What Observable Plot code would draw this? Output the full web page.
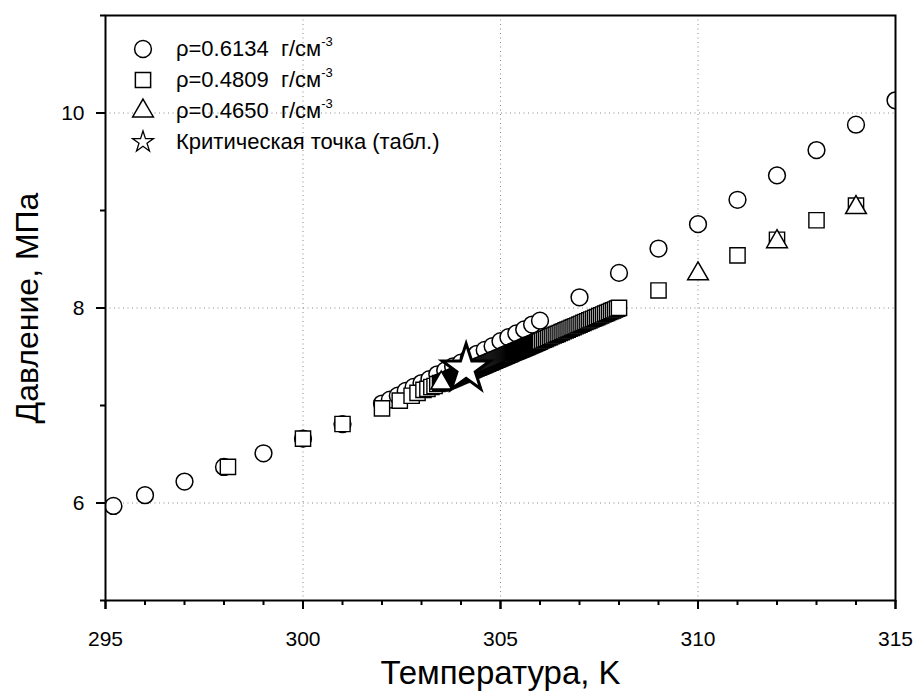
<!DOCTYPE html>
<html>
<head>
<meta charset="utf-8">
<script src="https://cdn.jsdelivr.net/npm/d3@7"></script>
<script src="https://cdn.jsdelivr.net/npm/@observablehq/plot@0.6"></script>
<style>
  html, body { margin: 0; padding: 0; background: #fff; }
  #wrap { position: relative; width: 915px; height: 693px; font-family: "Liberation Sans", Arial, sans-serif; }
  #legend { position: absolute; left: 128px; top: 33px; }
  .row { display: flex; align-items: center; height: 31px; }
  .row svg { width: 30px; height: 30px; margin-right: 18px; overflow: visible; }
  .row span { font-size: 22px; color: #000; white-space: pre; }
  .row sup { font-size: 13px; vertical-align: 10px; line-height: 0; }
</style>
</head>
<body>
<div id="wrap"><div id="legend"></div></div>
<script>
// ρ=0.6134 г/см-3 (circles)
const circT = [295.2, 296, 297, 298, 299, 300, 301, 302, 302.2, 302.4, 302.6, 302.8, 303, 303.2, 303.4, 303.6, 303.8, 304, 304.2, 304.4, 304.6, 304.8, 305, 305.2, 305.4, 305.6, 305.8, 306, 307, 308, 309, 310, 311, 312, 313, 314, 315];
const circP = [5.97, 6.08, 6.22, 6.37, 6.51, 6.66, 6.81, 7.02, 7.06, 7.10, 7.15, 7.19, 7.23, 7.27, 7.32, 7.36, 7.40, 7.44, 7.49, 7.53, 7.57, 7.61, 7.66, 7.70, 7.74, 7.78, 7.83, 7.87, 8.11, 8.36, 8.61, 8.86, 9.11, 9.36, 9.62, 9.88, 10.13];

// ρ=0.4809 г/см-3 (squares)
const sqT = [298.1, 300, 301, 302, 302.45, 302.75, 302.9, 303.05, 303.15, 303.25, 303.33, 303.4, 303.47,
  303.5, 303.525, 303.55, 303.575, 303.6, 303.625, 303.65, 303.675, 303.7, 303.725, 303.75, 303.775, 303.8, 303.825, 303.85, 303.875, 303.9, 303.925, 303.95, 303.975,
  304, 304.025, 304.05, 304.075, 304.1, 304.125, 304.15, 304.175, 304.2, 304.225, 304.25, 304.275, 304.3, 304.325, 304.35, 304.375, 304.4, 304.425, 304.45, 304.475,
  304.5, 304.525, 304.55, 304.575, 304.6, 304.625, 304.65, 304.675, 304.7, 304.725, 304.75, 304.775, 304.8, 304.825, 304.85, 304.875, 304.9, 304.925, 304.95, 304.975,
  305, 305.025, 305.05, 305.075, 305.1, 305.125, 305.15, 305.175, 305.2, 305.225, 305.25, 305.275, 305.3, 305.325, 305.35, 305.375, 305.4, 305.425, 305.45, 305.475,
  305.5, 305.525, 305.55, 305.575, 305.6, 305.625, 305.65, 305.675, 305.7, 305.725, 305.75, 305.775, 305.8, 305.825, 305.85, 305.875, 305.9, 305.925, 305.95, 305.975, 306,
  306.05, 306.1, 306.15, 306.2, 306.25, 306.3, 306.35, 306.4, 306.45, 306.5, 306.55, 306.6, 306.65, 306.7, 306.75, 306.8, 306.85, 306.9, 306.95, 307,
  307.05, 307.1, 307.15, 307.2, 307.25, 307.3, 307.35, 307.4, 307.45, 307.5, 307.55, 307.6, 307.65, 307.7, 307.75, 307.8, 307.85, 307.9, 307.95, 308,
  309, 311, 312, 313, 314];
const sqP = [6.37, 6.66, 6.81, 6.97, 7.05, 7.10, 7.13, 7.16, 7.17, 7.19, 7.20, 7.22, 7.23,
  7.228, 7.232, 7.237, 7.241, 7.245, 7.250, 7.254, 7.258, 7.262, 7.267, 7.271, 7.275, 7.280, 7.284, 7.288, 7.293, 7.297, 7.301, 7.305, 7.310,
  7.314, 7.318, 7.323, 7.327, 7.331, 7.336, 7.340, 7.344, 7.348, 7.353, 7.357, 7.361, 7.366, 7.370, 7.374, 7.379, 7.383, 7.387, 7.391, 7.396,
  7.400, 7.404, 7.409, 7.413, 7.417, 7.422, 7.426, 7.430, 7.434, 7.439, 7.443, 7.447, 7.452, 7.456, 7.460, 7.465, 7.469, 7.473, 7.477, 7.482,
  7.486, 7.490, 7.495, 7.499, 7.503, 7.508, 7.512, 7.516, 7.520, 7.525, 7.529, 7.533, 7.538, 7.542, 7.546, 7.551, 7.555, 7.559, 7.563, 7.568,
  7.572, 7.576, 7.581, 7.585, 7.589, 7.594, 7.598, 7.602, 7.606, 7.611, 7.615, 7.619, 7.624, 7.628, 7.632, 7.637, 7.641, 7.645, 7.649, 7.654, 7.658,
  7.667, 7.675, 7.684, 7.692, 7.701, 7.710, 7.718, 7.727, 7.735, 7.744, 7.753, 7.761, 7.770, 7.778, 7.787, 7.796, 7.804, 7.813, 7.821, 7.830,
  7.839, 7.847, 7.856, 7.864, 7.873, 7.882, 7.890, 7.899, 7.907, 7.916, 7.925, 7.933, 7.942, 7.950, 7.959, 7.968, 7.976, 7.985, 7.993, 8.002,
  8.18, 8.54, 8.70, 8.90, 9.05];

// ρ=0.4650 г/см-3 (triangles)
const triT = [303.5, 310, 312, 314];
const triP = [7.23, 8.35, 8.68, 9.03];

// Critical point (tabulated)
const critT = [304.13];
const critP = [7.377];

// Axes
const xMajor = [295, 300, 305, 310, 315];
const xMinor = [296, 297, 298, 299, 301, 302, 303, 304, 306, 307, 308, 309, 311, 312, 313, 314];
const yMajor = [6, 8, 10];
const yMinor = [5, 7, 9, 11];
const xGrid = [300, 305, 310];
const yGrid = [6, 8, 10];
const xTitle = "Температура, K";
const yTitle = "Давление, МПа";

const legendItems = [
  {symbol: "circle", label: "ρ=0.6134  г/см", sup: "-3"},
  {symbol: "square", label: "ρ=0.4809  г/см", sup: "-3"},
  {symbol: "triangle", label: "ρ=0.4650  г/см", sup: "-3"},
  {symbol: "star", label: "Критическая точка (табл.)", sup: ""}
];

const circles = circT.map((t, i) => ({t, p: circP[i]}));
const squares = sqT.map((t, i) => ({t, p: sqP[i]}));
const triangles = triT.map((t, i) => ({t, p: triP[i]}));
const crit = critT.map((t, i) => ({t, p: critP[i]}));

const W = 915, H = 693, mL = 105, mR = 20, mT = 15, mB = 93;
const frameW = W - mL - mR, frameH = H - mT - mB;
const font = "'Liberation Sans', Arial, sans-serif";
const fmt = d => String(d);

const chart = Plot.plot({
  width: W,
  height: H,
  marginLeft: mL,
  marginRight: mR,
  marginTop: mT,
  marginBottom: mB,
  style: {fontFamily: font, background: "#fff", color: "#000"},
  x: {domain: [295, 315]},
  y: {domain: [5, 11]},
  marks: [
    Plot.gridX({ticks: xGrid, stroke: "#888", strokeOpacity: 1, strokeDasharray: "1,3.5", strokeWidth: 1}),
    Plot.gridY({ticks: yGrid, stroke: "#888", strokeOpacity: 1, strokeDasharray: "1,3.5", strokeWidth: 1}),
    Plot.dot(circles, {x: "t", y: "p", symbol: "circle", r: 8.4, fill: "white", stroke: "black", strokeWidth: 1.5, clip: true}),
    Plot.dot(squares, {x: "t", y: "p", symbol: "square", r: 8.6, fill: "white", stroke: "black", strokeWidth: 1.4, clip: true}),
    Plot.dot(triangles, {x: "t", y: "p", symbol: "triangle", r: 7.7, fill: "white", stroke: "black", strokeWidth: 1.5, clip: true}),
    Plot.dot(crit, {x: "t", y: "p", symbol: "star", r: 15, fill: "white", stroke: "black", strokeWidth: 3, strokeLinejoin: "miter"}),
    // tick marks (outward)
    Plot.ruleX(xMinor, {x: d => d, stroke: "black", strokeWidth: 2, insetTop: frameH, insetBottom: -5}),
    Plot.ruleX(xMajor, {x: d => d, stroke: "black", strokeWidth: 2, insetTop: frameH, insetBottom: -9}),
    Plot.ruleY(yMinor, {y: d => d, stroke: "black", strokeWidth: 2, insetRight: frameW, insetLeft: -5}),
    Plot.ruleY(yMajor, {y: d => d, stroke: "black", strokeWidth: 2, insetRight: frameW, insetLeft: -9}),
    // tick labels
    Plot.axisX({ticks: xMajor, tickSize: 9, tickPadding: 22, tickFormat: fmt, fontSize: 21, stroke: "black", strokeWidth: 2, fill: "black", label: null}),
    Plot.axisY({ticks: yMajor, tickSize: 9, tickPadding: 12, tickFormat: fmt, fontSize: 21, stroke: "black", strokeWidth: 2, fill: "black", label: null}),
    Plot.frame({stroke: "black", strokeWidth: 2}),
    Plot.text([xTitle], {frameAnchor: "bottom", dy: 83, fontSize: 33, fill: "black"}),
    Plot.text([yTitle], {frameAnchor: "left", rotate: -90, textAnchor: "middle", dx: -78, fontSize: 32, fill: "black"})
  ]
});

document.getElementById("wrap").insertBefore(chart, document.getElementById("legend"));

// legend
const legend = document.getElementById("legend");
const ns = "http://www.w3.org/2000/svg";
const sizes = {circle: 8.4, square: 8.6, triangle: 7.7, star: 6.6};
const syms = {circle: d3.symbolCircle, square: d3.symbolSquare, triangle: d3.symbolTriangle, star: d3.symbolStar};
for (const item of legendItems) {
  const row = document.createElement("div");
  row.className = "row";
  const svg = document.createElementNS(ns, "svg");
  svg.setAttribute("viewBox", "-15 -15 30 30");
  const path = document.createElementNS(ns, "path");
  const r = sizes[item.symbol];
  path.setAttribute("d", d3.symbol(syms[item.symbol], Math.PI * r * r)());
  path.setAttribute("fill", "white");
  path.setAttribute("stroke", "black");
  path.setAttribute("stroke-width", item.symbol === "star" ? 1.3 : 1.5);
  svg.appendChild(path);
  row.appendChild(svg);
  const span = document.createElement("span");
  span.textContent = item.label;
  if (item.sup) {
    const sup = document.createElement("sup");
    sup.textContent = item.sup;
    span.appendChild(sup);
  }
  row.appendChild(span);
  legend.appendChild(row);
}
</script>
</body>
</html>
